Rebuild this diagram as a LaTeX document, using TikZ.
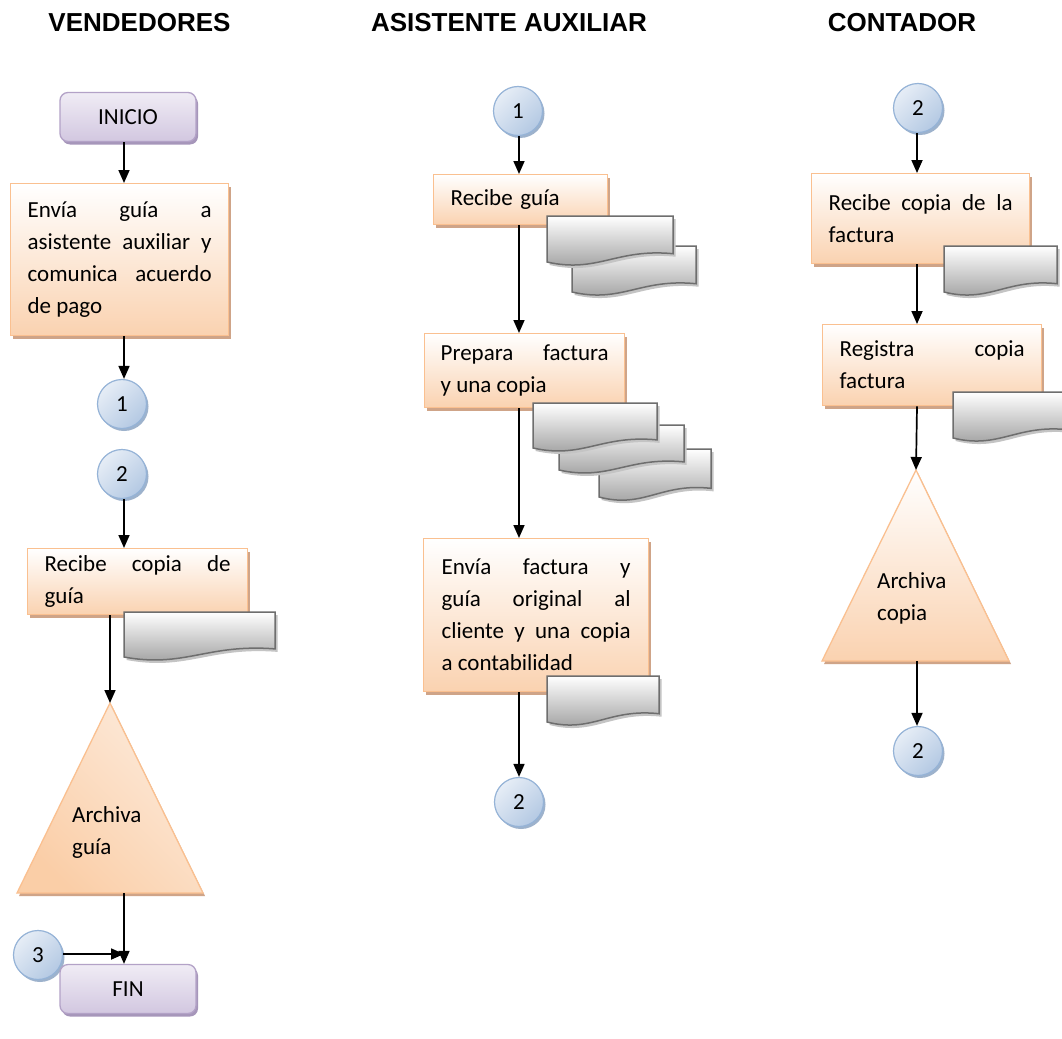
\documentclass[tikz,border=0pt]{standalone}
\usepackage{fontspec}
\setmainfont{Carlito}
\newfontfamily\hdrfont{Liberation Sans}
\usetikzlibrary{arrows.meta,shadows}
\hyphenpenalty=10000
\tolerance=10000
\hbadness=10000
\definecolor{orB}{HTML}{FAC090}
\definecolor{orF}{HTML}{FAD2B0}
\definecolor{orS}{HTML}{CFA488}
\definecolor{blB}{HTML}{95B3D7}
\definecolor{blT}{HTML}{E6EDF6}
\definecolor{blD}{HTML}{B4C9E3}
\definecolor{blS}{HTML}{9DB2CC}
\definecolor{puB}{HTML}{B3A2C7}
\definecolor{puT}{HTML}{F0ECF5}
\definecolor{puD}{HTML}{D2C7E0}
\definecolor{puS}{HTML}{A696BA}
\definecolor{dcB}{HTML}{6E6E6E}
\definecolor{dcD}{HTML}{989898}
\definecolor{dcS}{HTML}{C4C4C4}
\tikzset{
  every node/.style={font=\fontsize{23}{32}\selectfont},
  hdr/.style={font=\hdrfont\bfseries\fontsize{26}{30}\selectfont},
  proc/.style={draw=orB, line width=1.3pt, top color=white, bottom color=orF,
    drop shadow={shadow xshift=2.5pt, shadow yshift=-3pt, fill=orS, opacity=1},
    anchor=north west, align=justify, inner xsep=17pt, inner ysep=0pt},
  term/.style={rectangle, rounded corners=8pt, draw=puB, line width=1.3pt,
    top color=puT, bottom color=puD, minimum width=136pt, minimum height=49pt,
    drop shadow={shadow xshift=2pt, shadow yshift=-3pt, fill=puS, opacity=1}},
  conn/.style={circle, draw=blB, line width=1.2pt, minimum size=49pt, inner sep=0pt,
    top color=blT, bottom color=blD, shading angle=45,
    drop shadow={shadow xshift=2pt, shadow yshift=-2.5pt, fill=blS, opacity=1}},
  tri/.style={draw=orB, line width=1.3pt, top color=white, bottom color=orF,
    drop shadow={shadow xshift=2pt, shadow yshift=-3pt, fill=orS, opacity=1}},
  docst/.style={draw=dcB, line width=1.5pt, top color=white, bottom color=dcD,
    drop shadow={shadow xshift=2.5pt, shadow yshift=-3pt, fill=dcS, opacity=1}},
  lbl/.style={align=left, inner sep=0pt, anchor=west},
  arr/.style={-{Triangle[length=13pt,width=11pt]}, line width=1.7pt, black}
}
\newcommand{\docsh}[4]{%
  \path[docst] (#1,#2) -- (#3,#2) -- (#3,{#4-0.18*(#4-#2)})
    .. controls ({#1+0.55*(#3-#1)},{#4-0.3*(#4-#2)}) and ({#1+0.4*(#3-#1)},{#4+0.25*(#4-#2)})
    .. (#1,#4) -- cycle;}
\begin{document}
\begin{tikzpicture}[x=1pt, y=-1pt]
\fill[white] (0,0) rectangle (1062,1038);
\useasboundingbox (0,0) rectangle (1062,1038);

% headers
\node[hdr] (h1) at (139.5,22.5) {VENDEDORES};
\node[hdr] (h2) at (509,22.5) {ASISTENTE AUXILIAR};
\node[hdr] (h3) at (902,22.5) {CONTADOR};

% ---------- column 1 ----------
\coordinate (xa) at (124,0);
\coordinate (xb) at (110,0);
\node[term] (ini) at (128,117) {INICIO};
\node[proc, text width=184pt, minimum height=152pt] (b1) at (10,183)
  {Envía guía a\linebreak asistente auxiliar y\linebreak comunica acuerdo\linebreak de pago};
\node[conn] (c1a) at (122,404) {1};
\node[conn] (c1b) at (122,474) {2};
\node[proc, text width=186pt, minimum height=66pt] (b2) at (27,548)
  {Recibe copia de\linebreak guía};
\docsh{124}{612}{275}{657}
\coordinate (t1a) at (110,703);
\coordinate (t1l) at (17,893);
\coordinate (t1r) at (203,893);
\coordinate (t1b) at (124,893);
\path[tri, top color=orF!45, bottom color=orF!95!orange, shading angle=-45] (t1a) -- (t1r) -- (t1l) -- cycle;
\node[lbl] (t1t) at (72,832) {Archiva\\guía};
\node[conn] (c1c) at (38,955) {3};
\coordinate (j1) at (124,954);
\node[term] (fin) at (128,989) {FIN};

\draw[arr] (ini.south -| xa) -- (b1.north -| xa);
\draw[arr] (b1.south -| xa) -- (c1a.north -| xa);
\draw[arr] (c1b.south -| xa) -- (b2.north -| xa);
\draw[arr] (b2.south -| xb) -- (t1a);
\draw[arr] (t1b) -- (fin.north -| xa);
\draw[arr] (c1c.east |- j1) -- (j1);

% ---------- column 2 ----------
\coordinate (xc) at (519,0);
\node[conn] (c2a) at (518,111) {1};
\node[proc, text width=140pt, minimum height=50pt, align=left] (b3) at (433,174) {Recibe guía};
\node[proc, text width=168pt, minimum height=74pt, inner xsep=16pt] (b4) at (424,333)
  {Prepara factura\linebreak y una copia};
\node[proc, text width=189pt, minimum height=153pt, inner xsep=18pt] (b5) at (423,538)
  {Envía factura y\linebreak guía original al\linebreak cliente y una copia\linebreak a contabilidad};
\node[conn] (c2b) at (519,802) {2};
\docsh{572}{246}{696}{292}
\docsh{547}{216}{673}{262}
\docsh{599}{449}{711}{497}
\docsh{559}{425}{684}{470}
\docsh{533}{403}{657}{448}
\docsh{547}{676}{659}{722}

\draw[arr] (c2a.south -| xc) -- (b3.north -| xc);
\draw[arr] (b3.south -| xc) -- (b4.north -| xc);
\draw[arr] (b4.south -| xc) -- (b5.north -| xc);
\draw[arr] (b5.south -| xc) -- (c2b.north -| xc);

% ---------- column 3 ----------
\coordinate (xd) at (917,0);
\node[conn] (c3a) at (918,108) {2};
\node[proc, text width=184pt, minimum height=90pt] (b6) at (811,173)
  {Recibe copia de la\linebreak factura};
\node[proc, text width=185pt, minimum height=81pt] (b7) at (822,324)
  {Registra copia\linebreak factura};
\docsh{944}{246}{1057}{292}
\docsh{953}{392}{1068}{438}
\coordinate (t3a) at (916,470);
\coordinate (t3l) at (822,661);
\coordinate (t3r) at (1009,661);
\coordinate (t3b) at (917,661);
\path[tri] (t3a) -- (t3r) -- (t3l) -- cycle;
\node[lbl] (t3t) at (877,598) {Archiva\\copia};
\node[conn] (c3b) at (918,751) {2};

\draw[arr] (c3a.south -| xd) -- (b6.north -| xd);
\draw[arr] (b6.south -| xd) -- (b7.north -| xd);
\draw[arr] (b7.south -| xd) -- (t3a);
\draw[arr] (t3b) -- (c3b.north -| xd);
\end{tikzpicture}
\end{document}
